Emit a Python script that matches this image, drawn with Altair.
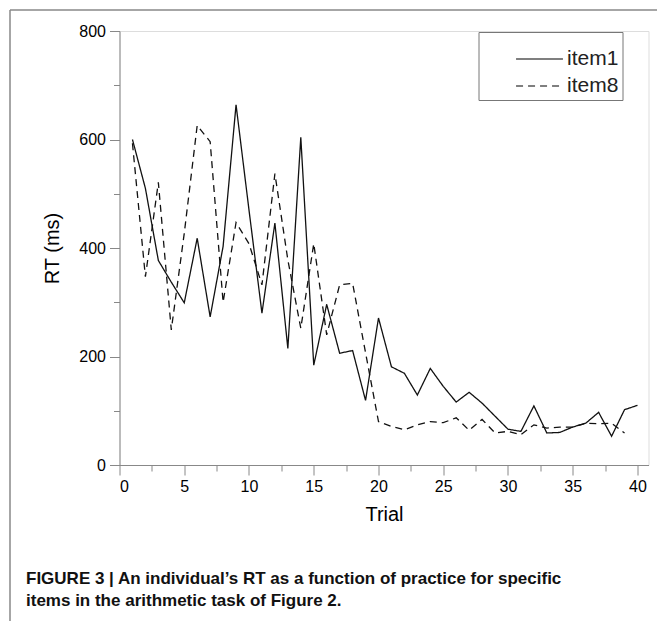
import altair as alt
import pandas as pd

# ---- data ----
trials_item1 = list(range(1, 41))
rt_item1 = [600, 510, 377, 337, 299, 418, 273, 403, 664, 470,
            280, 446, 215, 604, 184, 296, 206, 211, 119, 271,
            181, 169, 129, 178, 145, 116, 134, 114, 90, 66,
            62, 109, 59, 60, 70, 77, 97, 53, 102, 110]
trials_item8 = list(range(1, 40))
rt_item8 = [593, 347, 521, 249, 427, 626, 596, 300, 447, 408,
            332, 537, 378, 252, 408, 240, 332, 335, 207, 80,
            71, 65, 74, 80, 78, 87, 64, 84, 59, 62,
            56, 74, 68, 70, 70, 77, 76, 77, 59]
series_names = ["item1", "item8"]
x_major = [0, 5, 10, 15, 20, 25, 30, 35, 40]
x_minor = [2.5, 7.5, 12.5, 17.5, 22.5, 27.5, 32.5, 37.5]
y_major = [0, 200, 400, 600, 800]
y_minor = [100, 300, 500, 700]
caption = ["FIGURE 3 | An individual\u2019s RT as a function of practice for specific",
           "items in the arithmetic task of Figure 2."]

df = pd.DataFrame({
    "trial": trials_item1 + trials_item8,
    "rt": rt_item1 + rt_item8,
    "item": [series_names[0]] * len(trials_item1) + [series_names[1]] * len(trials_item8),
})

FONT = "Liberation Sans"
xscale = alt.Scale(domain=[0, 40.85], nice=False, zero=False)
yscale = alt.Scale(domain=[0, 800], nice=False)

lines = alt.Chart(df).mark_line(color="#111111", strokeWidth=1.3).encode(
    x=alt.X("trial:Q", scale=xscale,
            axis=alt.Axis(values=x_major, orient="bottom", title="Trial", tickSize=10,
                          labelPadding=3, labelFontSize=16, titleFontSize=20,
                          titlePadding=10, titleFontWeight="normal", grid=False)),
    y=alt.Y("rt:Q", scale=yscale,
            axis=alt.Axis(values=y_major, orient="left", title="RT (ms)", tickSize=10,
                          labelPadding=4, labelFontSize=16, titleFontSize=20,
                          titlePadding=16, titleFontWeight="normal", grid=False)),
    strokeDash=alt.StrokeDash(
        "item:N",
        scale=alt.Scale(domain=series_names, range=[[1, 0], [7, 5]]),
        legend=alt.Legend(
            orient="none", legendX=359, legendY=1,
            title="\u00a0", titleFontSize=9, titlePadding=4,
            padding=3.5, strokeColor="#777777", fillColor="white",
            cornerRadius=0,
            symbolType="M-5,0H5", symbolSize=88,
            symbolStrokeColor="#555555", symbolStrokeWidth=1.5,
            symbolOffset=47, labelOffset=17,
            labelFontSize=21, labelFont=FONT, labelColor="#222222",
            rowPadding=5,
        ),
    ),
)

minor = alt.Chart(df).mark_point(opacity=0, size=1).encode(
    x=alt.X("trial:Q", scale=xscale,
            axis=alt.Axis(values=x_minor, orient="bottom", title=None, tickSize=6,
                          labels=False, domain=False, grid=False)),
    y=alt.Y("rt:Q", scale=yscale,
            axis=alt.Axis(values=y_minor, orient="left", title=None, tickSize=6,
                          labels=False, domain=False, grid=False)),
)

frame_df = pd.DataFrame({"k": [0]})
frame_left = alt.Chart(frame_df).mark_rule(color="#888888", strokeWidth=1.5).encode(
    x=alt.value(-109.5), y=alt.value(-21), y2=alt.value(590))
frame_top = alt.Chart(frame_df).mark_rule(color="#888888", strokeWidth=1.5).encode(
    x=alt.value(-109.5), x2=alt.value(537.5), y=alt.value(-21))

chart = alt.layer(lines, minor, frame_left, frame_top).resolve_axis(
    x="independent", y="independent"
).properties(
    width=529, height=434,
    autosize=alt.AutoSizeParams(type="none"),
    padding={"left": 119.5, "top": 31, "right": 8.5, "bottom": 156},
    title=alt.TitleParams(
        text=caption, orient="bottom", anchor="start", frame="group",
        dx=-93.5, offset=-51, fontSize=17, fontWeight="bold", font=FONT,
        lineHeight=22, color="#111111",
    ),
).configure_view(stroke="transparent").configure_axis(
    domainColor="#000000", domainWidth=2, tickColor="#000000", tickWidth=1.8,
    labelColor="#111111", titleColor="#111111", labelFont=FONT, titleFont=FONT,
    grid=False,
).configure(background="white")

chart.save("out.html", embed_options={"renderer": "svg", "actions": False})
